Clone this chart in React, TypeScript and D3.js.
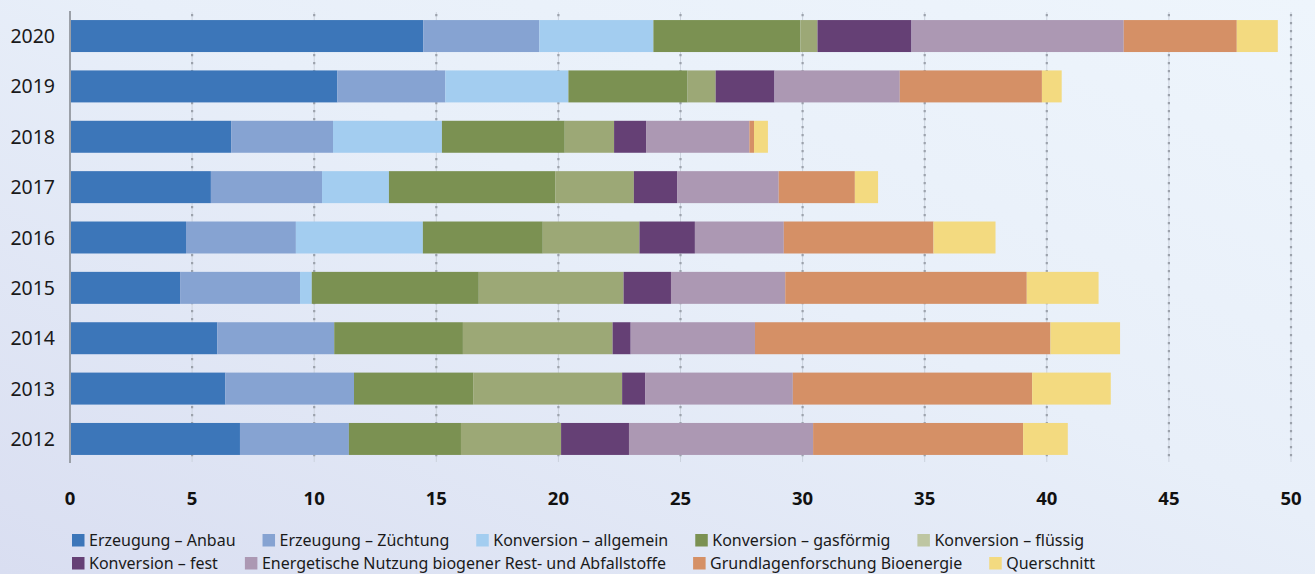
import React, { useRef, useEffect } from "react";
import * as d3 from "d3";

// Years shown on the y axis, top to bottom
const years = ["2020", "2019", "2018", "2017", "2016", "2015", "2014", "2013", "2012"];

// Funding categories (stack order, left to right)
const categories = [
  "Erzeugung – Anbau",
  "Erzeugung – Züchtung",
  "Konversion – allgemein",
  "Konversion – gasförmig",
  "Konversion – flüssig",
  "Konversion – fest",
  "Energetische Nutzung biogener Rest- und Abfallstoffe",
  "Grundlagenforschung Bioenergie",
  "Querschnitt",
];

const colors = ["#3c76b9", "#86a3d2", "#a3cdf0", "#7b9152", "#9ca876", "#654075", "#ac98b3", "#d59066", "#f3da80"];
// the legend swatch for "flüssig" is lighter than its bars in the original
const legendColors = ["#3c76b9", "#86a3d2", "#a3cdf0", "#7b9152", "#bec6a2", "#654075", "#ac98b3", "#d59066", "#f3da80"];

// values per year, same order as categories
const anbau = [14.47, 10.95, 6.6, 5.77, 4.75, 4.51, 6.03, 6.36, 6.96];
const zuechtung = [4.75, 4.42, 4.17, 4.55, 4.5, 4.91, 4.79, 5.27, 4.46];
const allgemein = [4.67, 5.04, 4.46, 2.74, 5.2, 0.48, 0, 0, 0];
const gasfoermig = [6.02, 4.88, 5.03, 6.81, 4.91, 6.84, 5.27, 4.88, 4.59];
const fluessig = [0.7, 1.15, 2.02, 3.22, 3.96, 5.93, 6.13, 6.1, 4.1];
const fest = [3.85, 2.41, 1.31, 1.77, 2.27, 1.94, 0.74, 0.94, 2.78];
const reststoffe = [8.69, 5.13, 4.23, 4.16, 3.64, 4.68, 5.09, 6.05, 7.54];
const grundlagen = [4.63, 5.82, 0.19, 3.12, 6.13, 9.89, 12.1, 9.8, 8.6];
const querschnitt = [1.68, 0.81, 0.57, 0.95, 2.54, 2.94, 2.85, 3.22, 1.83];

const series = [anbau, zuechtung, allgemein, gasfoermig, fluessig, fest, reststoffe, grundlagen, querschnitt];
const xTicks = [0, 5, 10, 15, 20, 25, 30, 35, 40, 45, 50];

const W = 1315;
const H = 574;
const FONT = "'Noto Sans', sans-serif";

const App: React.FC = () => {
  const ref = useRef<SVGSVGElement | null>(null);

  useEffect(() => {
    if (!ref.current) return;
    const svg = d3.select(ref.current);
    svg.selectAll("*").remove();

    const defs = svg.append("defs");
    const grad = defs.append("linearGradient")
      .attr("id", "bg")
      .attr("x1", "0").attr("y1", "1").attr("x2", "1").attr("y2", "0");
    grad.append("stop").attr("offset", "0").attr("stop-color", "#d9def1");
    grad.append("stop").attr("offset", "0.55").attr("stop-color", "#e8eff9");
    grad.append("stop").attr("offset", "1").attr("stop-color", "#eef5fc");
    svg.append("rect").attr("width", W).attr("height", H).attr("fill", "url(#bg)");

    const x = d3.scaleLinear().domain([0, 50]).range([70, 1291]);
    const y = d3.scaleBand<string>().domain(years).range([12, 463]).paddingInner(0.365).paddingOuter(0.16);

    // dotted grid lines
    const grid = svg.append("g");
    xTicks.slice(1).forEach((t) => {
      grid.append("line")
        .attr("x1", x(t)).attr("x2", x(t)).attr("y1", 12).attr("y2", 462)
        .attr("stroke", "#cbd2dd").attr("stroke-width", 1);
      grid.append("line")
        .attr("x1", x(t)).attr("x2", x(t)).attr("y1", 14).attr("y2", 462)
        .attr("stroke", "#9ca2ac").attr("stroke-width", 2.2)
        .attr("stroke-dasharray", "2.2,5.8");
    });

    // stacked bars
    const rows = years.map((yr, i) => {
      const row: Record<string, number | string> = { year: yr };
      categories.forEach((c, j) => (row[c] = series[j][i]));
      return row;
    });
    const stacked = d3.stack<Record<string, number | string>>().keys(categories)(rows as any);
    const color = d3.scaleOrdinal<string, string>().domain(categories).range(colors);
    const legendColor = d3.scaleOrdinal<string, string>().domain(categories).range(legendColors);

    svg.append("g")
      .selectAll("g")
      .data(stacked)
      .join("g")
      .attr("fill", (d) => color(d.key))
      .selectAll("rect")
      .data((d) => d)
      .join("rect")
      .attr("x", (d) => x(d[0]))
      .attr("width", (d) => Math.max(0, x(d[1]) - x(d[0])))
      .attr("y", (d) => y(d.data.year as string)!)
      .attr("height", y.bandwidth());

    // y axis line
    svg.append("line")
      .attr("x1", x(0)).attr("x2", x(0)).attr("y1", 11).attr("y2", 463)
      .attr("stroke", "#9ba0a8").attr("stroke-width", 2);

    // year labels
    svg.append("g")
      .selectAll("text")
      .data(years)
      .join("text")
      .attr("x", 55)
      .attr("y", (d) => y(d)! + y.bandwidth() / 2)
      .attr("dy", "0.36em")
      .attr("text-anchor", "end")
      .style("font-family", FONT)
      .style("font-size", "19.5px")
      .attr("fill", "#1a1a1a")
      .text((d) => d);

    // x tick labels
    svg.append("g")
      .selectAll("text")
      .data(xTicks)
      .join("text")
      .attr("x", (d) => x(d))
      .attr("y", 505)
      .attr("text-anchor", "middle")
      .style("font-family", FONT)
      .style("font-size", "18.5px")
      .style("font-weight", "bold")
      .attr("fill", "#111")
      .text((d) => d);

    // legend, two rows, flowing
    const legendRows = [categories.slice(0, 5), categories.slice(5)];
    const baselines = [546, 569];
    const gaps = [27, 27];
    legendRows.forEach((items, r) => {
      let cx = 72;
      items.forEach((c) => {
        const g = svg.append("g");
        g.append("rect")
          .attr("x", cx).attr("y", baselines[r] - 12)
          .attr("width", 12.5).attr("height", 12.5)
          .attr("fill", legendColor(c));
        const t = g.append("text")
          .attr("x", cx + 17)
          .attr("y", baselines[r])
          .style("font-family", FONT)
          .style("font-size", "16px")
          .attr("fill", "#1a1a1a")
          .text(c);
        const w = (t.node() as SVGTextElement).getComputedTextLength();
        cx += 17 + w + gaps[r];
      });
    });
  }, []);

  return (
    <svg
      ref={ref}
      width={W}
      height={H}
      style={{ position: "absolute", left: 0, top: 0, display: "block" }}
    />
  );
};

export default App;
